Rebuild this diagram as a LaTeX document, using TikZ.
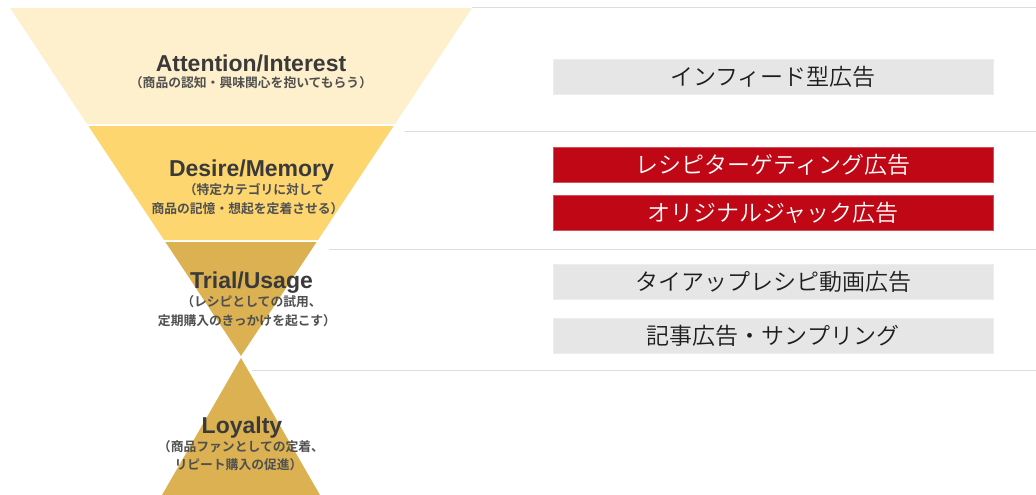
\documentclass[tikz,border=0pt]{standalone}
\usepackage{fontspec}
\newfontfamily\jp{Noto Sans CJK JP}
\IfFontExistsTF{Noto Sans CJK JP DemiLight}{\newfontfamily\jplight{Noto Sans CJK JP DemiLight}}{%
  \IfFontExistsTF{Noto Sans CJK JP Light}{\newfontfamily\jplight{Noto Sans CJK JP Light}}{\newfontfamily\jplight{Noto Sans CJK JP}}}
\IfFontExistsTF{Noto Sans CJK JP Bold}{\newfontfamily\jpmed{Noto Sans CJK JP Bold}}{\newfontfamily\jpmed{Noto Sans CJK JP}[FakeBold=1.5]}
\newfontfamily\ttlfont{Liberation Sans}
\definecolor{lvA}{HTML}{FEF0CC}
\definecolor{lvB}{HTML}{FDD670}
\definecolor{lvC}{HTML}{DCB152}
\definecolor{sepgray}{HTML}{DDDDDD}
\definecolor{boxgray}{HTML}{E6E6E6}
\definecolor{boxred}{HTML}{BF0715}
\definecolor{ttlcol}{HTML}{3A3A3A}
\definecolor{subcol}{HTML}{505050}
\definecolor{boxtxt}{HTML}{1E1E1E}
\tikzset{
  ttl/.style={inner sep=0pt, text=ttlcol, font=\ttlfont\bfseries\fontsize{23}{23}\selectfont},
  subt/.style={inner sep=0pt, text=subcol, font=\jpmed\fontsize{12.8}{12.8}\selectfont},
  sepline/.style={draw=sepgray, line width=1pt},
  adbox/.style={minimum width=440pt, minimum height=35pt, inner sep=0pt, font=\jplight\fontsize{23}{23}\selectfont},
  greybox/.style={adbox, fill=boxgray, draw=boxgray!70!white, line width=0.6pt, text=boxtxt},
  redbox/.style={adbox, fill=boxred, draw=boxred!70!white, line width=0.6pt, text=white},
}
\begin{document}
\begin{tikzpicture}[x=1pt,y=-1pt]
\useasboundingbox (0,0) rectangle (1036,495);
% funnel sections
\fill[lvA] (10,8) -- (472,8) -- (395,124) -- (87,124) -- cycle;
\fill[lvB] (88.4,126) -- (393.6,126) -- (318,240) -- (164,240) -- cycle;
\fill[lvC] (165.4,242) -- (316.6,242) -- (241,356) -- cycle;
\fill[lvC] (241,358) -- (320,495) -- (162,495) -- cycle;
% separators
\coordinate (l1a) at (472,8);   \coordinate (l1b) at (1036,8);
\coordinate (l2a) at (405,131); \coordinate (l2b) at (1036,131);
\coordinate (l3a) at (329,249); \coordinate (l3b) at (1036,249);
\coordinate (l4a) at (252,370); \coordinate (l4b) at (1036,370);
\draw[sepline] (l1a) -- (l1b);
\draw[sepline] (l2a) -- (l2b);
\draw[sepline] (l3a) -- (l3b);
\draw[sepline] (l4a) -- (l4b);
% funnel labels
\node[ttl]  (t1)  at (251,63.5)  {Attention/Interest};
\node[subt] (s1)  at (251,83)  {（商品の認知・興味関心を抱いてもらう）};
\node[ttl]  (t2)  at (251.5,170.5) {Desire/Memory};
\node[subt] (s2a) at (254,190) {（特定カテゴリに対して};
\node[subt] (s2b) at (247.5,209) {商品の記憶・想起を定着させる）};
\node[ttl]  (t3)  at (251.5,282.5) {Trial/Usage};
\node[subt] (s3a) at (251.5,302) {（レシピとしての試用、};
\node[subt] (s3b) at (247,321) {定期購入のきっかけを起こす）};
\node[ttl]  (t4)  at (242,427.5) {Loyalty};
\node[subt] (s4a) at (241,447) {（商品ファンとしての定着、};
\node[subt] (s4b) at (238.5,465) {リピート購入の促進）};
% ad boxes
\node[greybox] (b1) at (773,76.5)  {インフィード型広告};
\node[redbox]  (b2) at (773,165)   {レシピターゲティング広告};
\node[redbox]  (b3) at (773,212.5) {オリジナルジャック広告};
\node[greybox] (b4) at (773,282)   {タイアップレシピ動画広告};
\node[greybox] (b5) at (773,335.5) {記事広告・サンプリング};
\end{tikzpicture}
\end{document}
